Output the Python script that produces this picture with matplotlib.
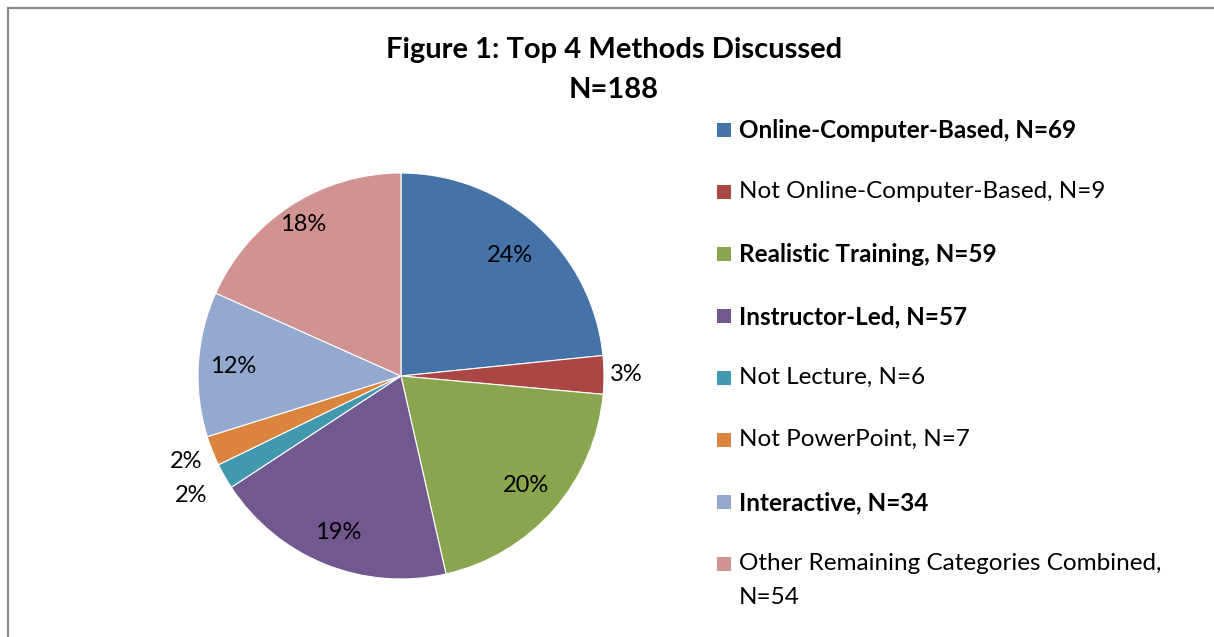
import numpy as np
import matplotlib
matplotlib.use("Agg")
import matplotlib.pyplot as plt
from matplotlib.lines import Line2D
from matplotlib.patches import Rectangle

plt.rcParams['font.family'] = ['Lato', 'DejaVu Sans']

title_lines = ["Figure 1: Top 4 Methods Discussed", "N=188"]
categories = ["Online-Computer-Based, N=69",
              "Not Online-Computer-Based, N=9",
              "Realistic Training, N=59",
              "Instructor-Led, N=57",
              "Not Lecture, N=6",
              "Not PowerPoint, N=7",
              "Interactive, N=34",
              "Other Remaining Categories Combined,\nN=54"]
values = [69, 9, 59, 57, 6, 7, 34, 54]
pct_labels = ["24%", "3%", "20%", "19%", "2%", "2%", "12%", "18%"]
bold_entries = [True, False, True, True, False, False, True, False]
colors = ["#4572A7", "#AA4643", "#89A54E", "#71588F",
          "#4198AF", "#DB843D", "#93A9CF", "#D19392"]
label_dist = [0.80, 1.11, 0.82, 0.83, 1.19, 1.14, 0.83, 0.89]

W, H = 1214, 637
fig = plt.figure(figsize=(W / 100, H / 100), dpi=100)
fig.patch.set_facecolor("white")

cx, cy, R = 401, 376, 203
ax = fig.add_axes([(cx - R) / W, (H - cy - R) / H, 2 * R / W, 2 * R / H])
wedges, _ = ax.pie(values, colors=colors, startangle=90, counterclock=False,
                   radius=1, wedgeprops=dict(edgecolor="white", linewidth=0.8))
ax.set_xlim(-1, 1)
ax.set_ylim(-1, 1)
ax.set_aspect("auto")
ax.axis("off")

for w, lab, d in zip(wedges, pct_labels, label_dist):
    ang = np.deg2rad((w.theta1 + w.theta2) / 2)
    ax.text(d * np.cos(ang), d * np.sin(ang), lab, ha="center", va="center",
            fontsize=17, color="black", clip_on=False)

fig.text(614 / W, 1 - 50 / H, title_lines[0], ha="center", va="center",
         fontsize=21, fontweight="bold")
fig.text(614 / W, 1 - 90 / H, title_lines[1], ha="center", va="center",
         fontsize=21, fontweight="bold")

# legend drawn as a column of swatches + labels
row0, step = 130, 62
sq = 14
for i, (lab, col, b) in enumerate(zip(categories, colors, bold_entries)):
    yc = row0 + i * step
    fig.add_artist(Rectangle((717 / W, 1 - (yc + sq / 2) / H), sq / W, sq / H,
                             transform=fig.transFigure, facecolor=col,
                             edgecolor="none"))
    fig.text(739 / W, 1 - (yc - 11) / H, lab, ha="left", va="top",
             fontsize=17.5, fontweight="bold" if b else "normal",
             linespacing=1.75)

fig.add_artist(Line2D([7.5 / W, 7.5 / W], [0, 1 - 7.5 / H], transform=fig.transFigure,
                      color="#8c8c8c", lw=1.6))
fig.add_artist(Line2D([7.5 / W, 1], [1 - 7.5 / H, 1 - 7.5 / H], transform=fig.transFigure,
                      color="#8c8c8c", lw=1.6))

fig.savefig("out.png", dpi=100, facecolor="white")
